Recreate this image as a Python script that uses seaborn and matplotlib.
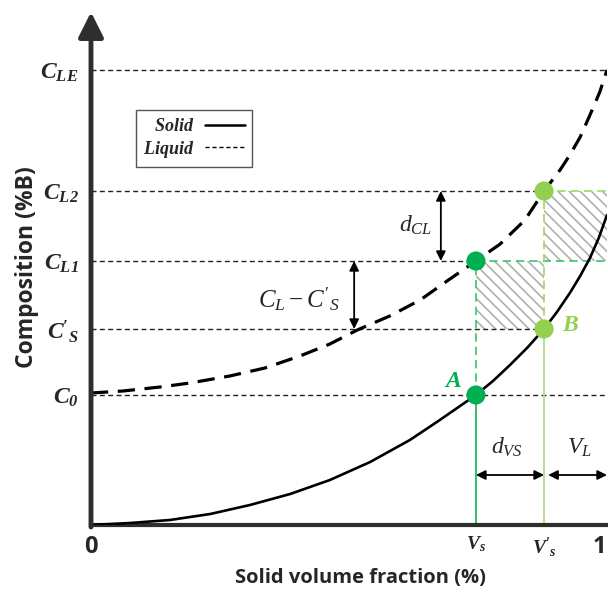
import matplotlib
matplotlib.use("Agg")
import matplotlib.pyplot as plt
import numpy as np
import pandas as pd
import seaborn as sns
from matplotlib.lines import Line2D
from matplotlib.patches import Rectangle

# ---- data -------------------------------------------------------------
# characteristic compositions (%B, arbitrary units)
C0, CS_P, CL1, CL2, CLE = 1.30, 1.96, 2.64, 3.34, 4.55
# characteristic solid volume fractions
VS, VS_P = 0.746, 0.878

ytick_values = [C0, CS_P, CL1, CL2, CLE]
ytick_labels = [r"$\mathbf{C_0}$", r"$\mathbf{C'_S}$", r"$\mathbf{C_{L1}}$",
                r"$\mathbf{C_{L2}}$", r"$\mathbf{C_{LE}}$"]
xtick_values = [0.0, VS, VS_P, 0.985]
xtick_labels = ["0", r"$\mathbf{V_s}$", r"$\mathbf{V'_s}$", "1"]

# liquid composition along solidification
liquid_x = [0.000, 0.062, 0.134, 0.192, 0.269, 0.337, 0.405, 0.463, 0.516, 0.579,
            0.638, 0.690, 0.746, 0.793, 0.841, 0.878, 0.909, 0.928, 0.948, 0.967,
            0.986, 1.000]
liquid_y = [1.32, 1.34, 1.38, 1.42, 1.49, 1.57, 1.69, 1.81, 1.95, 2.09,
            2.25, 2.44, 2.64, 2.81, 3.05, 3.34, 3.55, 3.70, 3.88, 4.10,
            4.33, 4.55]
# solid composition along solidification
solid_x = [0.000, 0.076, 0.153, 0.231, 0.308, 0.386, 0.463, 0.541, 0.618, 0.676,
           0.746, 0.779, 0.812, 0.845, 0.878, 0.903, 0.928, 0.948, 0.967, 0.984,
           1.000]
solid_y = [0.00, 0.02, 0.05, 0.11, 0.20, 0.31, 0.45, 0.63, 0.85, 1.05,
           1.30, 1.44, 1.60, 1.77, 1.96, 2.13, 2.32, 2.49, 2.67, 2.87,
           3.10]

liquid = pd.DataFrame({"x": liquid_x, "y": liquid_y})
solid = pd.DataFrame({"x": solid_x, "y": solid_y})

# ---- style ------------------------------------------------------------
sns.set_theme(style="white")
plt.rcParams.update({
    "mathtext.fontset": "custom",
    "mathtext.rm": "Liberation Serif",
    "mathtext.it": "Liberation Serif:italic",
    "mathtext.bf": "Liberation Serif:italic:bold",
    "mathtext.fallback": "stix",
    "hatch.linewidth": 1.2,
    "lines.solid_joinstyle": "round",
})
plt.rcParams["font.family"] = ["Open Sans", "DejaVu Sans"]

DARK_GREEN = "#00b050"
LIGHT_GREEN = "#92d050"
AXIS_COLOR = "#2e2e2e"
YTOP = 5.13

fig = plt.figure(figsize=(6.08, 5.94), dpi=100)
ax = fig.add_axes([91 / 608, 69 / 594, 516 / 608, 513 / 594])
ax.set_xlim(0, 1)
ax.set_ylim(0, YTOP)

# hatched composition/volume boxes
hatch_kw = dict(facecolor="none", edgecolor="#b0b0b0", hatch="\\\\\\", lw=0, zorder=1)
ax.add_patch(Rectangle((VS, CS_P), VS_P - VS, CL1 - CS_P, **hatch_kw))
ax.add_patch(Rectangle((VS_P, CL1), 1.0 - VS_P, CL2 - CL1, **hatch_kw))

# black reference lines
ref_kw = dict(color="#222222", lw=1.0, dashes=(3.6, 2.4), zorder=2)
ax.plot([0, 1], [CLE, CLE], **ref_kw)
ax.plot([0, VS_P], [CL2, CL2], **ref_kw)
ax.plot([0, VS], [CL1, CL1], **ref_kw)
ax.plot([0, VS_P], [CS_P, CS_P], **ref_kw)
ax.plot([0, 1], [C0, C0], **ref_kw)

# green construction lines
ax.plot([VS, 1], [CL1, CL1], color="#3cc46e", lw=1.2, dashes=(5, 3), zorder=2)
ax.plot([VS_P, 1], [CL2, CL2], color="#9ed66a", lw=1.2, dashes=(5, 3), zorder=2)
ax.plot([VS, VS], [C0, CL1], color="#3cc46e", lw=1.2, dashes=(5, 3), zorder=2)
ax.plot([VS_P, VS_P], [CS_P, CL2], color="#9ed66a", lw=1.2, dashes=(5, 3), zorder=2)
ax.plot([VS, VS], [0, C0], color="#22b85a", lw=1.3, zorder=2)
ax.plot([VS_P, VS_P], [0, CS_P], color="#b0de86", lw=1.3, zorder=2)

# solidus / liquidus curves
sns.lineplot(data=solid, x="x", y="y", ax=ax, color="black", lw=1.9,
             zorder=3, legend=False)
sns.lineplot(data=liquid, x="x", y="y", ax=ax, color="black", lw=2.3,
             zorder=3, legend=False)
ax.lines[-1].set_dashes((5.4, 3.0))

# key points
pts = pd.DataFrame({"x": [VS, VS, VS_P, VS_P], "y": [C0, CL1, CS_P, CL2],
                    "g": ["a", "a", "b", "b"]})
sns.scatterplot(data=pts, x="x", y="y", hue="g", palette=[DARK_GREEN, LIGHT_GREEN],
                s=190, linewidth=0, ax=ax, zorder=4, legend=False)

ax.text(0.7016, 1.44, r"$\mathbf{A}$", color=DARK_GREEN, fontsize=17,
        ha="center", va="center")
ax.text(0.930, 2.00, r"$\mathbf{B}$", color=LIGHT_GREEN, fontsize=17,
        ha="center", va="center")

# dimension arrows
arr_kw = dict(arrowstyle="<|-|>", color="black", lw=1.3, mutation_scale=14,
              shrinkA=0, shrinkB=0)
ax.annotate("", xy=(0.678, CL2), xytext=(0.678, CL1), arrowprops=arr_kw)
ax.annotate("", xy=(0.510, CL1), xytext=(0.510, CS_P), arrowprops=arr_kw)
ax.annotate("", xy=(VS, 0.50), xytext=(VS_P, 0.50), arrowprops=arr_kw)
ax.annotate("", xy=(0.886, 0.50), xytext=(1.0, 0.50), arrowprops=arr_kw,
            annotation_clip=False)

ax.text(0.630, 2.99, r"$d_{CL}$", fontsize=17, ha="center", va="center")
ax.text(0.403, 2.26, r"$C_L - C'_S$", fontsize=18, ha="center", va="center")
ax.text(0.806, 0.77, r"$d_{VS}$", fontsize=17, ha="center", va="center")
ax.text(0.946, 0.77, r"$V_L$", fontsize=17, ha="center", va="center")

# legend
handles = [Line2D([], [], color="black", lw=1.8),
           Line2D([], [], color="black", lw=1.0, dashes=(3, 2))]
leg = ax.legend(handles, [r"$\mathbf{Solid}$", r"$\mathbf{Liquid}$"],
                loc="upper left", bbox_to_anchor=(0.087, 0.809),
                markerfirst=False, fancybox=False, framealpha=1,
                edgecolor="#555555", fontsize=13, handlelength=2.2,
                borderpad=0.4, labelspacing=0.2, handletextpad=0.6,
                borderaxespad=0)
leg.get_frame().set_linewidth(1.0)

# axes: thick bottom line, arrowed vertical axis
for side in ["top", "right", "left"]:
    ax.spines[side].set_visible(False)
ax.spines["bottom"].set_linewidth(3.0)
ax.spines["bottom"].set_color(AXIS_COLOR)
ax.annotate("", xy=(0, YTOP), xytext=(0, -0.02),
            arrowprops=dict(arrowstyle="-|>", color=AXIS_COLOR, lw=3.5,
                            mutation_scale=38, shrinkA=0, shrinkB=0),
            annotation_clip=False)

ax.set_yticks(ytick_values, ytick_labels)
ax.set_xticks(xtick_values, xtick_labels)
ax.tick_params(axis="both", length=0)
ax.tick_params(axis="y", pad=9, labelsize=17)
ax.tick_params(axis="x", pad=7, labelsize=14)
for lbl in ax.get_xticklabels():
    if lbl.get_text() in ("0", "1"):
        lbl.set_fontsize(17)
        lbl.set_fontweight("bold")

ax.set_xlabel("Solid volume fraction (%)", fontsize=14.5, fontweight="bold")
ax.set_ylabel("Composition (%B)", fontsize=16.5, fontweight="bold")
ax.xaxis.set_label_coords((360 - 91) / 516, (525 - 578) / 513)
ax.xaxis.label.set_va("center")
ax.yaxis.set_label_coords((27 - 91) / 516, (525 - 267) / 513)
ax.yaxis.label.set_va("center")

fig.savefig("out.png", dpi=100)
